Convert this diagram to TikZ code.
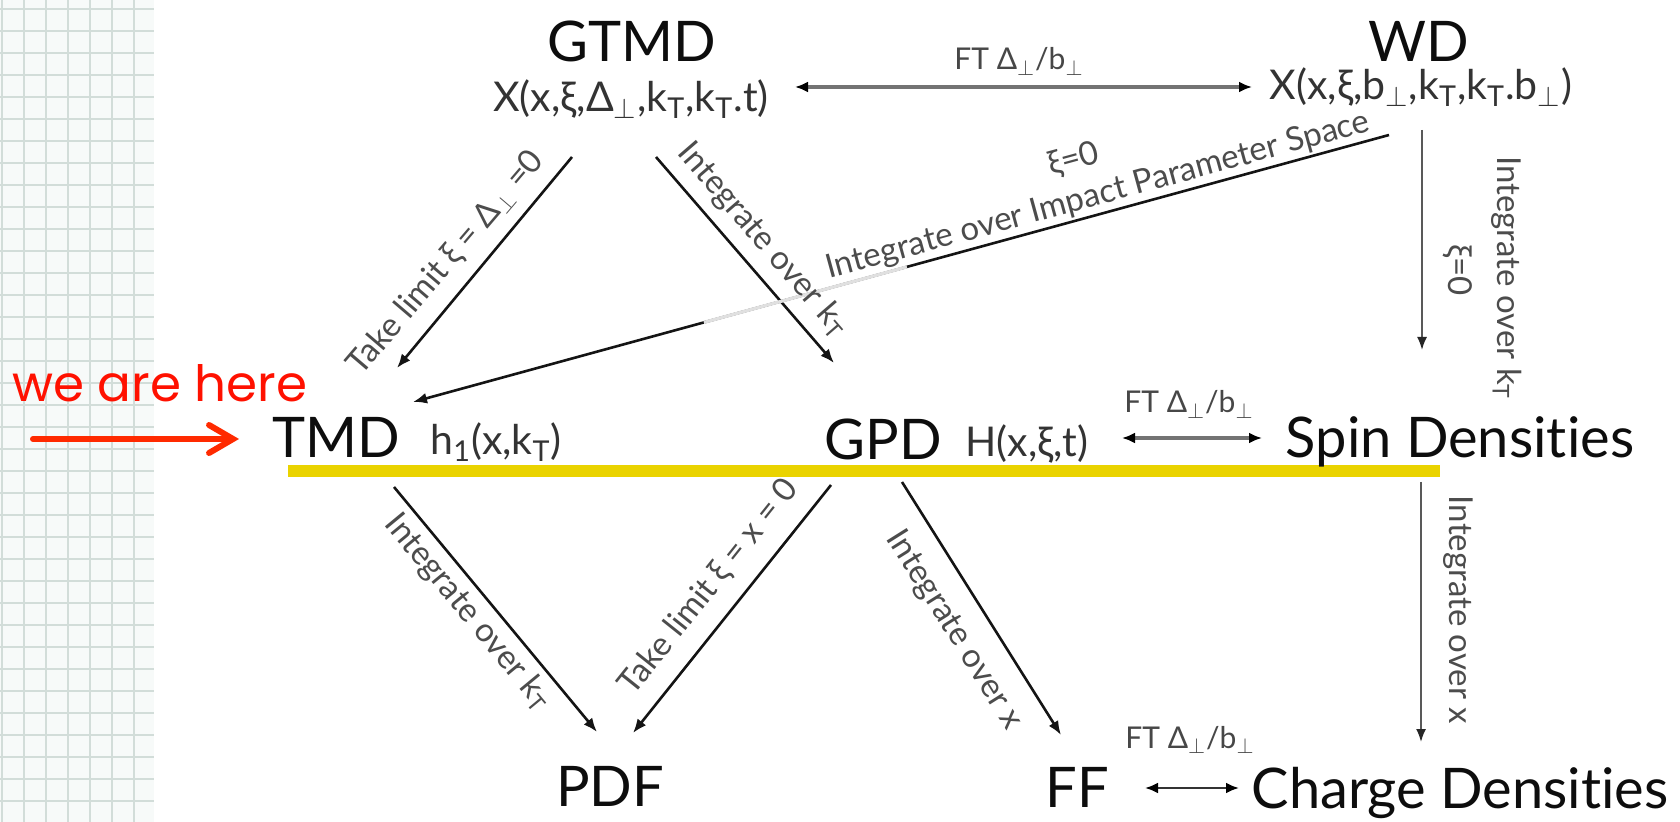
\documentclass[tikz,border=0pt]{standalone}
\usepackage{fontspec}
\setmainfont{Lato}[Ligatures={NoCommon}]
\newfontfamily\handfont{Poppins}
\usetikzlibrary{arrows.meta,calc}
\definecolor{gridfill}{HTML}{F7FAF9}
\definecolor{gridline}{HTML}{D2DDD9}
\definecolor{barcol}{HTML}{EAD300}
\definecolor{herered}{HTML}{FF1100}
\definecolor{arrred}{HTML}{FF2A00}
\begin{document}
\begin{tikzpicture}[x=0.5pt,y=0.5pt,
  big/.style={font=\fontsize{28}{30}\selectfont, text=black!95, inner sep=0pt, anchor=base},
  formula/.style={font=\fontsize{20.5}{22}\selectfont, text=black!80, inner sep=0pt, anchor=base},
  small/.style={font=\fontsize{16.5}{18}\selectfont, text=black!70, inner sep=0pt},
  ftlab/.style={font=\fontsize{15}{17}\selectfont, text=black!72, inner sep=0pt, anchor=base},
  conn/.style={draw=black!92, line width=1.3pt, -{Latex[length=7pt,width=5.5pt]}},
  thinconn/.style={draw=black!65, line width=0.9pt, -{Latex[length=6.5pt,width=5pt,black!85]}},
  dbl/.style={draw=black!55, line width=2pt, {Latex[length=6.5pt,width=5.5pt,black]}-{Latex[length=6.5pt,width=5.5pt,black]}},
  hand/.style={font=\handfont\fontsize{25}{28}\selectfont, text=herered, inner sep=0pt, anchor=base},
  redarrow/.style={draw=arrred, line width=3pt, line cap=round, -{Straight Barb[length=12pt,width=14pt,line cap=round]}}
]
\useasboundingbox (0,0) rectangle (1680,-822);
\fill[white] (0,0) rectangle (1680,-822);
% grid strip
\fill[gridfill] (0,0) rectangle (154,-822);
\foreach \i in {0,...,6} \draw[gridline, line width=1pt] ({1.7+22*\i},0) -- ({1.7+22*\i},-822);
\foreach \j in {0,...,37} \draw[gridline, line width=1pt] (0,{-9.3-22*\j}) -- (154,{-9.3-22*\j});
% yellow bar
\fill[barcol] (288,-465) rectangle (1440,-477);

% main nodes
\node[big] (gtmd) at (632,-62) {GTMD};
\node[formula] (gtmdf) at (631,-112) {X(x,ξ,Δ$_\perp$,k\textsubscript{T},k\textsubscript{T}.t)};
\node[big] (wd) at (1419,-62) {WD};
\node[formula] (wdf) at (1421,-100) {X(x,ξ,b$_\perp$,k\textsubscript{T},k\textsubscript{T}.b$_\perp$)};
\node[big] (tmd) at (336,-458) {TMD};
\node[formula] (tmdf) at (496,-455) {h\textsubscript{1}(x,k\textsubscript{T})};
\node[big] (gpd) at (883,-460) {GPD};
\node[formula] (gpdf) at (1027,-457) {H(x,ξ,t)};
\node[big] (spin) at (1460,-458) {Spin Densities};
\node[big] (pdf) at (610,-806) {PDF};
\node[big] (ff) at (1077,-807) {FF};
\node[big] (charge) at (1460,-808) {Charge Densities};
\node[ftlab] (ft1) at (1019,-70) {FT Δ$_\perp$/b$_\perp$};
\node[ftlab] (ft2) at (1189,-413) {FT Δ$_\perp$/b$_\perp$};
\node[ftlab] (ft3) at (1190,-748) {FT Δ$_\perp$/b$_\perp$};
\node[hand] (here) at (160,-402) {we are here};

% connector end points
\coordinate (tA) at (795,-87);   \coordinate (tB) at (1252,-87);
\coordinate (gS1) at (572,-157); \coordinate (tE1) at (397,-368);
\coordinate (gS2) at (656,-157); \coordinate (pE1) at (834,-363);
\coordinate (wS1) at (1389,-135); \coordinate (tE2) at (413,-402);
\coordinate (wS2) at (1422,-130); \coordinate (sE1) at (1422,-350);
\coordinate (mA) at (1122,-438); \coordinate (mB) at (1262,-438);
\coordinate (tS1) at (394,-487); \coordinate (dE1) at (597,-732);
\coordinate (pS1) at (831,-485); \coordinate (dE2) at (633,-733);
\coordinate (pS2) at (902,-482); \coordinate (fE1) at (1061,-735);
\coordinate (sS1) at (1421,-482); \coordinate (cE1) at (1421,-742);
\coordinate (bA) at (1145,-788); \coordinate (bB) at (1239,-788);
\coordinate (rS) at (33,-439); \coordinate (rE) at (239,-439);

% connectors
\draw[dbl] (tA) -- (tB);
\draw[conn] (gS1) -- (tE1);
\draw[conn] (gS2) -- (pE1);
\draw[conn] (wS1) -- (tE2);
\draw[black!12, line width=1.6pt] ($(wS1)!0.494!(tE2)$) -- ($(wS1)!0.702!(tE2)$);
\draw[thinconn] (wS2) -- (sE1);
\draw[dbl] (mA) -- (mB);
\draw[conn] (tS1) -- (dE1);
\draw[conn] (pS1) -- (dE2);
\draw[conn] (pS2) -- (fE1);
\draw[thinconn] (sS1) -- (cE1);
\draw[dbl, draw=black!80, line width=1.2pt] (bA) -- (bB);
\draw[redarrow] (rS) -- (rE);

% connector labels
\node[small, rotate=49.5] (l1) at (446,-263) {Take limit ξ = Δ$_\perp$ =0};
\node[small, rotate=-49.2] (l2) at (763,-240) {Integrate over k\textsubscript{T}};
\node[small, rotate=15.3] (l3) at (1098,-196) {Integrate over Impact Parameter Space};
\node[small, rotate=15.3] (l4) at (1074,-160) {ξ=0};
\node[small, rotate=-90] (l5) at (1458,-270) {ξ=0};
\node[small, rotate=-90] (l6) at (1507,-278) {Integrate over k\textsubscript{T}};
\node[small, rotate=-50.4] (l7) at (468,-612) {Integrate over k\textsubscript{T}};
\node[small, rotate=51.4] (l8) at (709,-587) {Take limit ξ = x = 0};
\node[small, rotate=-57.9] (l9) at (954,-630) {Integrate over x};
\node[small, rotate=-90] (l10) at (1458,-610) {Integrate over x};
\end{tikzpicture}
\end{document}
